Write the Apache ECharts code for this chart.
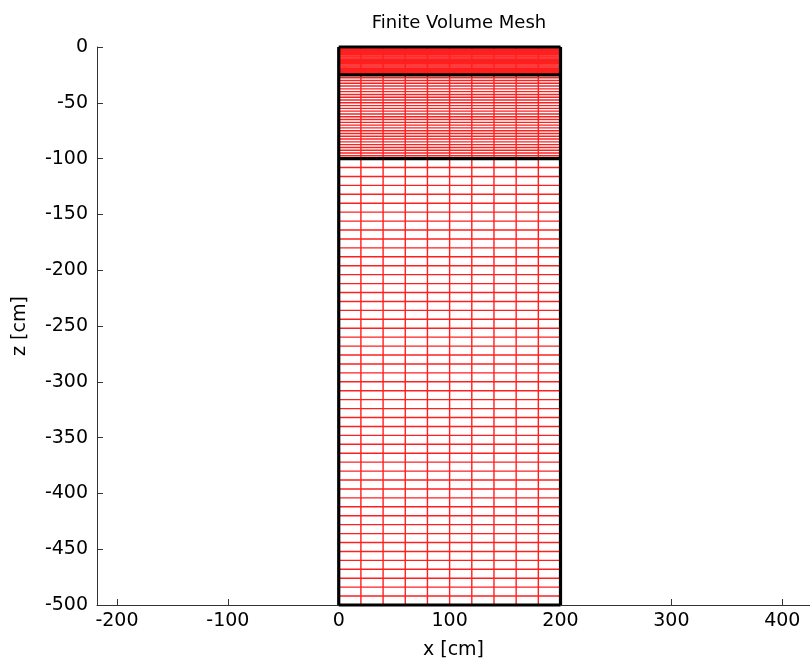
<!DOCTYPE html>
<html>
<head>
<meta charset="utf-8">
<script src="https://cdn.jsdelivr.net/npm/echarts@6/dist/echarts.min.js"></script>
<style>html,body{margin:0;padding:0;background:#fff}#c{width:810px;height:672px}</style>
</head>
<body>
<div id="c"></div>
<script>
// Mesh node positions (cm)
const xNodes = [0, 20, 40, 60, 80, 100, 120, 140, 160, 180, 200];
const zTop = [0, -1, -2, -3, -4, -5, -6, -7, -8, -9, -10, -11, -12, -13, -14, -15, -16, -17, -18, -19, -20, -21, -22, -23, -24, -25];
const zMid = [-25, -27.5, -30, -32.5, -35, -37.5, -40, -42.5, -45, -47.5, -50, -52.5, -55, -57.5, -60, -62.5, -65, -67.5, -70, -72.5, -75, -77.5, -80, -82.5, -85, -87.5, -90, -92.5, -95, -97.5, -100];
const zBot = [-100, -108, -116, -124, -132, -140, -148, -156, -164, -172, -180, -188, -196, -204, -212, -220, -228, -236, -244, -252, -260, -268, -276, -284, -292, -300, -308, -316, -324, -332, -340, -348, -356, -364, -372, -380, -388, -396, -404, -412, -420, -428, -436, -444, -452, -460, -468, -476, -484, -492, -500];
const layerBounds = [0, -25, -100, -500];
const xTicks = [-200, -100, 0, 100, 200, 300, 400];
const zTicks = [0, -50, -100, -150, -200, -250, -300, -350, -400, -450, -500];

const xLeft = xNodes[0], xRight = xNodes[xNodes.length - 1];
const zTopV = layerBounds[0], zBotV = layerBounds[layerBounds.length - 1];

// segments [x1, z1, x2, z2]
const redSegs = zTop.concat(zMid, zBot).map(z => [xLeft, z, xRight, z])
  .concat(xNodes.map(x => [x, zTopV, x, zBotV]));
const blackSegs = layerBounds.map(z => [xLeft, z, xRight, z])
  .concat([xLeft, xRight].map(x => [x, zTopV, x, zBotV]));

function segRenderer(color, width) {
  return function (params, api) {
    const p1 = api.coord([api.value(0), api.value(1)]);
    const p2 = api.coord([api.value(2), api.value(3)]);
    return {
      type: 'line',
      shape: {x1: p1[0], y1: p1[1], x2: p2[0], y2: p2[1]},
      style: {stroke: color, lineWidth: width}
    };
  };
}

const font = 'DejaVu Sans';
const chart = echarts.init(document.getElementById('c'), null, {renderer: 'canvas'});
chart.setOption({
  animation: false,
  backgroundColor: '#fff',
  title: {
    text: 'Finite Volume Mesh', left: 454, top: 9, textAlign: 'center',
    textStyle: {fontFamily: font, fontSize: 18, fontWeight: 'normal', color: '#000'}
  },
  grid: {left: 97, right: -1, top: 47, bottom: 67, containLabel: false},
  xAxis: {
    type: 'value', min: -218, max: 425,
    name: 'x [cm]', nameLocation: 'middle', nameGap: 36,
    nameTextStyle: {fontFamily: font, fontSize: 19, color: '#000'},
    axisLine: {show: true, onZero: false, lineStyle: {color: '#333', width: 1}},
    axisTick: {show: true, inside: true, length: 6, customValues: xTicks, lineStyle: {color: '#333'}},
    axisLabel: {customValues: xTicks, margin: 7, fontFamily: font, fontSize: 19, color: '#000'},
    splitLine: {show: false}
  },
  yAxis: {
    type: 'value', min: -500, max: 0, interval: 50,
    name: 'z [cm]', nameLocation: 'middle', nameGap: 67,
    nameTextStyle: {fontFamily: font, fontSize: 19, color: '#000'},
    axisLine: {show: true, onZero: false, lineStyle: {color: '#333', width: 1}},
    axisTick: {show: true, inside: true, length: 6, lineStyle: {color: '#333'}},
    axisLabel: {margin: 9, fontFamily: font, fontSize: 19, color: '#000'},
    splitLine: {show: false}
  },
  series: [
    {type: 'custom', coordinateSystem: 'cartesian2d', silent: true, clip: false,
     encode: {x: [0, 2], y: [1, 3]}, data: redSegs, renderItem: segRenderer('#ff1f1f', 1.4)},
    {type: 'custom', coordinateSystem: 'cartesian2d', silent: true, clip: false,
     encode: {x: [0, 2], y: [1, 3]}, data: blackSegs, renderItem: segRenderer('#000', 3.2)}
  ]
});
</script>
</body>
</html>
